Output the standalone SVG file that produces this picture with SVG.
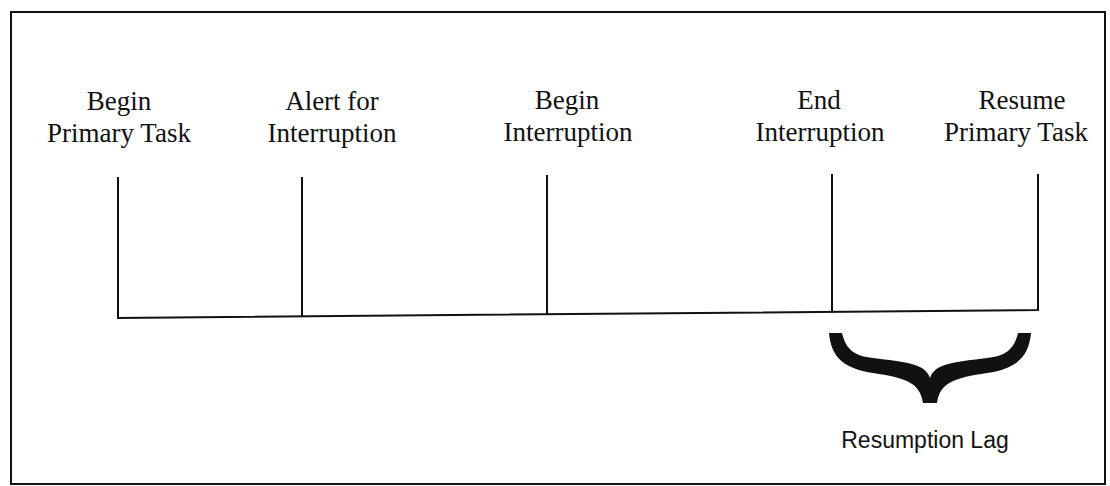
<svg xmlns="http://www.w3.org/2000/svg" width="1110" height="486" viewBox="0 0 1110 486">
<style>
.lbl{font-family:"Liberation Serif","Times New Roman",serif;font-size:27px;fill:#111;text-anchor:middle}
.tick{stroke:#111;stroke-width:2;fill:none}
.frame{stroke:#111;stroke-width:2;fill:#fff}
.cap{font-family:"Liberation Sans",Arial,sans-serif;font-size:23px;fill:#111;text-anchor:middle}
</style>
<rect width="1110" height="486" fill="#fff"/>
<rect class="frame" x="11" y="12" width="1094" height="472"/>
<g id="n-begin-primary">
<text class="lbl" x="119" y="110">Begin</text>
<text class="lbl" x="119" y="142">Primary Task</text>
</g>
<g id="n-alert">
<text class="lbl" x="332" y="110">Alert for</text>
<text class="lbl" x="332" y="142">Interruption</text>
</g>
<g id="n-begin-interruption">
<text class="lbl" x="567" y="109">Begin</text>
<text class="lbl" x="568" y="141">Interruption</text>
</g>
<g id="n-end-interruption">
<text class="lbl" x="819" y="109">End</text>
<text class="lbl" x="820" y="141">Interruption</text>
</g>
<g id="n-resume">
<text class="lbl" x="1022" y="109">Resume</text>
<text class="lbl" x="1016" y="141">Primary Task</text>
</g>
<g id="connectors">
<path class="tick" d="M118,177 V318 L1038,310 V174"/>
<path class="tick" d="M302,177 V316.4"/>
<path class="tick" d="M547,175 V314.3"/>
<path class="tick" d="M832,174 V311.8"/>
</g>
<g id="n-resumption-lag">
<path fill="#111" d="M829,333 C831,354 840,368 873,373 C905,378 920,382 923,403 L937,403 C940,382 955,378 987,373 C1020,368 1029,354 1031,333 L1018,333 C1014,350 1005,356 987,358 C955,362 935,363 930,378 C925,363 905,362 873,358 C855,356 846,350 842,333 Z"/>
<text class="cap" x="925" y="448">Resumption Lag</text>
</g>
</svg>
